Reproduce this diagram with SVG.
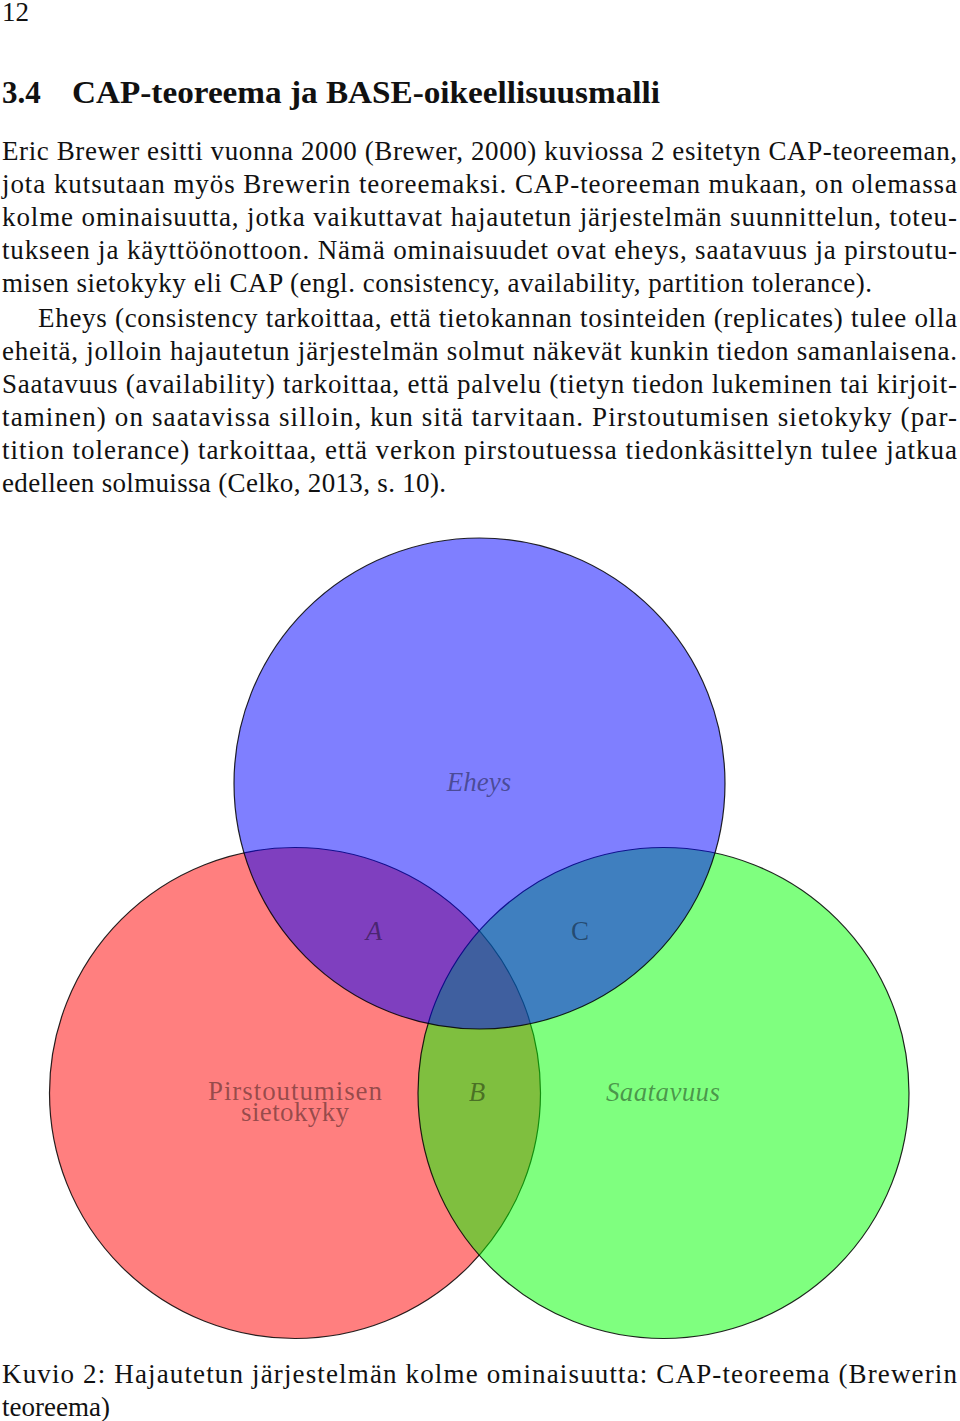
<svg xmlns="http://www.w3.org/2000/svg" width="960" height="1421" viewBox="0 0 960 1421">
<style>
.t{font-family:"Liberation Serif","DejaVu Serif",serif;font-size:27px;fill:#111}
.h{font-family:"Liberation Serif","DejaVu Serif",serif;font-size:31px;font-weight:bold;fill:#111}
.c{stroke:#000;stroke-opacity:0.85;stroke-width:1.2}
.l{font-family:"Liberation Serif","DejaVu Serif",serif;font-size:27px;fill:#000;fill-opacity:0.42;text-anchor:middle}
.i{font-style:italic}
</style>
<rect width="960" height="1421" fill="#fff"/>
<text class="t" x="2" y="21" font-size="23">12</text>
<text class="h" x="2" y="103">3.4</text>
<text class="h" x="72" y="103" textLength="588" lengthAdjust="spacingAndGlyphs">CAP-teoreema ja BASE-oikeellisuusmalli</text>
<g id="body">
<text class="t" x="2" y="160" textLength="955">Eric Brewer esitti vuonna 2000 (Brewer, 2000) kuviossa 2 esitetyn CAP-teoreeman,</text>
<text class="t" x="2" y="193" textLength="955">jota kutsutaan myös Brewerin teoreemaksi. CAP-teoreeman mukaan, on olemassa</text>
<text class="t" x="2" y="226" textLength="955">kolme ominaisuutta, jotka vaikuttavat hajautetun järjestelmän suunnittelun, toteu-</text>
<text class="t" x="2" y="259" textLength="955">tukseen ja käyttöönottoon. Nämä ominaisuudet ovat eheys, saatavuus ja pirstoutu-</text>
<text class="t" x="2" y="292" textLength="870">misen sietokyky eli CAP (engl. consistency, availability, partition tolerance).</text>
<text class="t" x="38" y="327" textLength="919">Eheys (consistency tarkoittaa, että tietokannan tosinteiden (replicates) tulee olla</text>
<text class="t" x="2" y="360" textLength="955">eheitä, jolloin hajautetun järjestelmän solmut näkevät kunkin tiedon samanlaisena.</text>
<text class="t" x="2" y="393" textLength="955">Saatavuus (availability) tarkoittaa, että palvelu (tietyn tiedon lukeminen tai kirjoit-</text>
<text class="t" x="2" y="426" textLength="955">taminen) on saatavissa silloin, kun sitä tarvitaan. Pirstoutumisen sietokyky (par-</text>
<text class="t" x="2" y="459" textLength="955">tition tolerance) tarkoittaa, että verkon pirstoutuessa tiedonkäsittelyn tulee jatkua</text>
<text class="t" x="2" y="492" textLength="444">edelleen solmuissa (Celko, 2013, s. 10).</text>
</g>
<g id="connectors"></g>
<g id="node-partition">
<circle class="c" cx="295" cy="1093" r="245.5" fill="#ff0000" fill-opacity="0.5"/>
</g>
<g id="node-availability">
<circle class="c" cx="663.5" cy="1093" r="245.5" fill="#00ff00" fill-opacity="0.5"/>
</g>
<g id="node-consistency">
<circle class="c" cx="479.5" cy="783.5" r="245.5" fill="#0000ff" fill-opacity="0.5"/>
</g>
<g id="labels">
<text class="l i" x="479" y="791">Eheys</text>
<text class="l i" x="374" y="940">A</text>
<text class="l" x="580" y="940">C</text>
<text class="l i" x="477" y="1101">B</text>
<text class="l" x="295" y="1100" textLength="174">Pirstoutumisen</text>
<text class="l" x="295" y="1121" textLength="108">sietokyky</text>
<text class="l i" x="663" y="1101" textLength="114">Saatavuus</text>
</g>
<g id="caption">
<text class="t" x="2" y="1383" textLength="955">Kuvio 2: Hajautetun järjestelmän kolme ominaisuutta: CAP-teoreema (Brewerin</text>
<text class="t" x="2" y="1416">teoreema)</text>
</g>
</svg>
